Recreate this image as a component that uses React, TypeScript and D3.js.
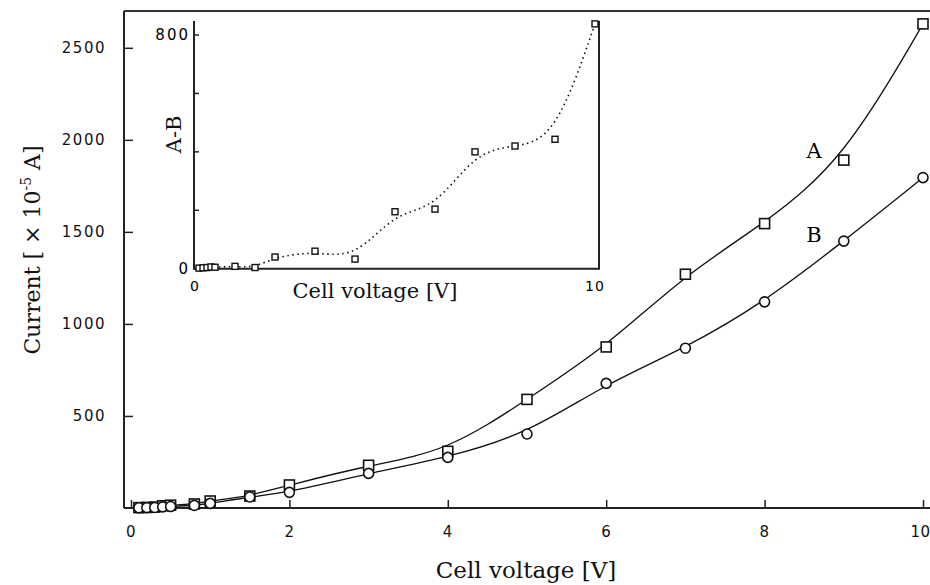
import React, { useEffect, useRef } from 'react';
import * as d3 from 'd3';

// cell voltage [V] where both curves were measured
const voltage = [0.1, 0.2, 0.3, 0.4, 0.5, 0.8, 1, 1.5, 2, 3, 4, 5, 6, 7, 8, 9, 10];
// curve A (squares), current in 1e-5 A
const currentA = [2, 3, 5, 12, 15, 22, 38, 65, 125, 232, 308, 590, 875, 1270, 1545, 1890, 2630];
// curve B (circles)
const currentB = [1, 2, 3, 6, 8, 14, 25, 60, 85, 188, 275, 402, 677, 868, 1120, 1450, 1795];

// inset: A-B difference
const insetVoltage = [0.1, 0.2, 0.3, 0.4, 0.5, 1, 1.5, 2, 3, 4, 5, 6, 7, 8, 9, 10];
const insetDiff = [2, 3, 4, 6, 5, 8, 4, 40, 60, 33, 195, 204, 400, 420, 443, 838];

const xMajorTicks = [0, 2, 4, 6, 8, 10];
const xMinorTicks = [1, 3, 5, 7, 9];
const yMajorTicks = [500, 1000, 1500, 2000, 2500];
const yMinorTicks = [250, 750, 1250, 1750, 2250];
const insetYTicks = [0, 200, 400, 600, 800];
const insetYLabels = [0, 800];
const insetXLabels = [0, 10];

const serif = '"DejaVu Serif", serif';
const sans = '"DejaVu Sans", sans-serif';

function App() {
  const ref = useRef<SVGSVGElement>(null);

  useEffect(() => {
    const svg = d3.select(ref.current);
    svg.selectAll('*').remove();

    const x = d3.scaleLinear().domain([0, 10]).range([131, 923]);
    const y = d3.scaleLinear().domain([0, 2700]).range([508, 11]);
    const axisX = 124;

    // frame top line
    svg.append('line')
      .attr('x1', axisX).attr('x2', 930)
      .attr('y1', y(2700)).attr('y2', y(2700))
      .attr('stroke', '#333').attr('stroke-width', 2);

    // y axis
    const gy = svg.append('g').attr('transform', `translate(${axisX},0)`);
    gy.call(d3.axisLeft(y).tickValues(yMinorTicks).tickSize(-5).tickFormat(() => ''));
    gy.call(d3.axisLeft(y).tickValues(yMajorTicks).tickSize(-9).tickPadding(18)
      .tickFormat(d3.format('d')));
    gy.select('.domain').attr('d', `M0,${y(2700)}V${y(0)}`);

    // x axis
    const gx = svg.append('g').attr('transform', `translate(0,${y(0)})`);
    gx.call(d3.axisBottom(x).tickValues(xMinorTicks).tickSize(-4).tickFormat(() => ''));
    gx.call(d3.axisBottom(x).tickValues(xMajorTicks).tickSize(-8).tickPadding(18)
      .tickFormat(d3.format('d')));
    gx.select('.domain').attr('d', `M${axisX},0H930`);

    svg.selectAll('.domain').attr('stroke', '#222').attr('stroke-width', 2);
    svg.selectAll('.tick line').attr('stroke', '#222').attr('stroke-width', 1.5);
    svg.selectAll('.tick text')
      .attr('font-family', sans).attr('font-size', 15)
      .attr('letter-spacing', 1.5).attr('fill', '#111');
    // the last label sits on the right edge
    gx.selectAll<SVGTextElement, number>('.tick text')
      .filter((d) => d === 10)
      .attr('letter-spacing', 0.5).attr('dx', -3);

    // smooth curves
    const line = d3.line<number>()
      .x((_, i) => x(voltage[i]))
      .curve(d3.curveBasis);

    [currentA, currentB].forEach((series) => {
      svg.append('path')
        .datum(series)
        .attr('d', line.y((d) => y(d)))
        .attr('fill', 'none')
        .attr('stroke', '#111')
        .attr('stroke-width', 1.3);
    });

    // markers
    svg.append('g').selectAll('rect')
      .data(currentA)
      .enter().append('rect')
      .attr('x', (_, i) => x(voltage[i]) - 5)
      .attr('y', (d) => y(d) - 5)
      .attr('width', 10).attr('height', 10)
      .attr('fill', 'white').attr('stroke', '#111').attr('stroke-width', 1.6);

    svg.append('g').selectAll('circle')
      .data(currentB)
      .enter().append('circle')
      .attr('cx', (_, i) => x(voltage[i]))
      .attr('cy', (d) => y(d))
      .attr('r', 5)
      .attr('fill', 'white').attr('stroke', '#111').attr('stroke-width', 1.6);

    // curve labels
    svg.append('text').attr('x', 814).attr('y', 158).attr('text-anchor', 'middle')
      .attr('font-family', serif).attr('font-size', 21).text('A');
    svg.append('text').attr('x', 814).attr('y', 242).attr('text-anchor', 'middle')
      .attr('font-family', serif).attr('font-size', 21).text('B');

    // axis titles
    svg.append('text').attr('x', 526).attr('y', 578).attr('text-anchor', 'middle')
      .attr('font-family', serif).attr('font-size', 23).attr('fill', '#111')
      .text('Cell voltage [V]');

    const yt = svg.append('text')
      .attr('transform', 'translate(40,250) rotate(-90)')
      .attr('text-anchor', 'middle')
      .attr('font-family', serif).attr('font-size', 22).attr('fill', '#111');
    yt.append('tspan').text('Current [ \u00d7 10');
    yt.append('tspan').attr('dy', -9).attr('font-size', 14).text('-5');
    yt.append('tspan').attr('dy', 9).text(' A]');

    // ---- inset ----
    const ix = d3.scaleLinear().domain([0, 10]).range([195, 595]);
    const iy = d3.scaleLinear().domain([0, 800]).range([268.7, 35]);
    const ileft = 194, iright = 599, itop = iy(848);

    const inset = svg.append('g');
    inset.append('path')
      .attr('d', `M${ileft},${itop}V${iy(0)}H${iright}V${itop}`)
      .attr('fill', 'none').attr('stroke', '#222').attr('stroke-width', 2);

    inset.selectAll('.itick')
      .data(insetYTicks)
      .enter().append('line')
      .attr('x1', ileft).attr('x2', ileft + 5)
      .attr('y1', (d) => iy(d)).attr('y2', (d) => iy(d))
      .attr('stroke', '#222').attr('stroke-width', 1.5);

    inset.selectAll('.iylab')
      .data(insetYLabels)
      .enter().append('text')
      .attr('x', ileft - 4).attr('y', (d) => iy(d)).attr('dy', '0.35em')
      .attr('text-anchor', 'end')
      .attr('font-family', sans).attr('font-size', 15).attr('letter-spacing', 2)
      .text((d) => d);

    inset.selectAll('.ixlab')
      .data(insetXLabels)
      .enter().append('text')
      .attr('x', (d) => ix(d)).attr('y', iy(0) + 22)
      .attr('text-anchor', 'middle')
      .attr('font-family', sans).attr('font-size', 14).attr('letter-spacing', 1)
      .text((d) => d);

    const iline = d3.line<number>()
      .x((_, i) => ix(insetVoltage[i]))
      .y((d) => iy(d))
      .curve(d3.curveBasis);

    inset.append('path')
      .datum(insetDiff)
      .attr('d', iline)
      .attr('fill', 'none').attr('stroke', '#111')
      .attr('stroke-width', 1.6).attr('stroke-dasharray', '1.5,3.5');

    inset.selectAll('.isq')
      .data(insetDiff)
      .enter().append('rect')
      .attr('x', (_, i) => ix(insetVoltage[i]) - 3)
      .attr('y', (d) => iy(d) - 3)
      .attr('width', 6).attr('height', 6)
      .attr('fill', 'white').attr('stroke', '#111').attr('stroke-width', 1.4);

    inset.append('text').attr('x', (ix(0) + ix(10)) / 2 - 20).attr('y', 298)
      .attr('text-anchor', 'middle')
      .attr('font-family', serif).attr('font-size', 21).attr('fill', '#111')
      .text('Cell voltage [V]');

    inset.append('text')
      .attr('transform', `translate(181,${iy(460)}) rotate(-90)`)
      .attr('text-anchor', 'middle')
      .attr('font-family', serif).attr('font-size', 21).attr('fill', '#111')
      .text('A-B');
  }, []);

  return (
    <svg ref={ref} width={930} height={585}
      style={{ position: 'absolute', left: 0, top: 0, background: 'white' }} />
  );
}

export default App;
